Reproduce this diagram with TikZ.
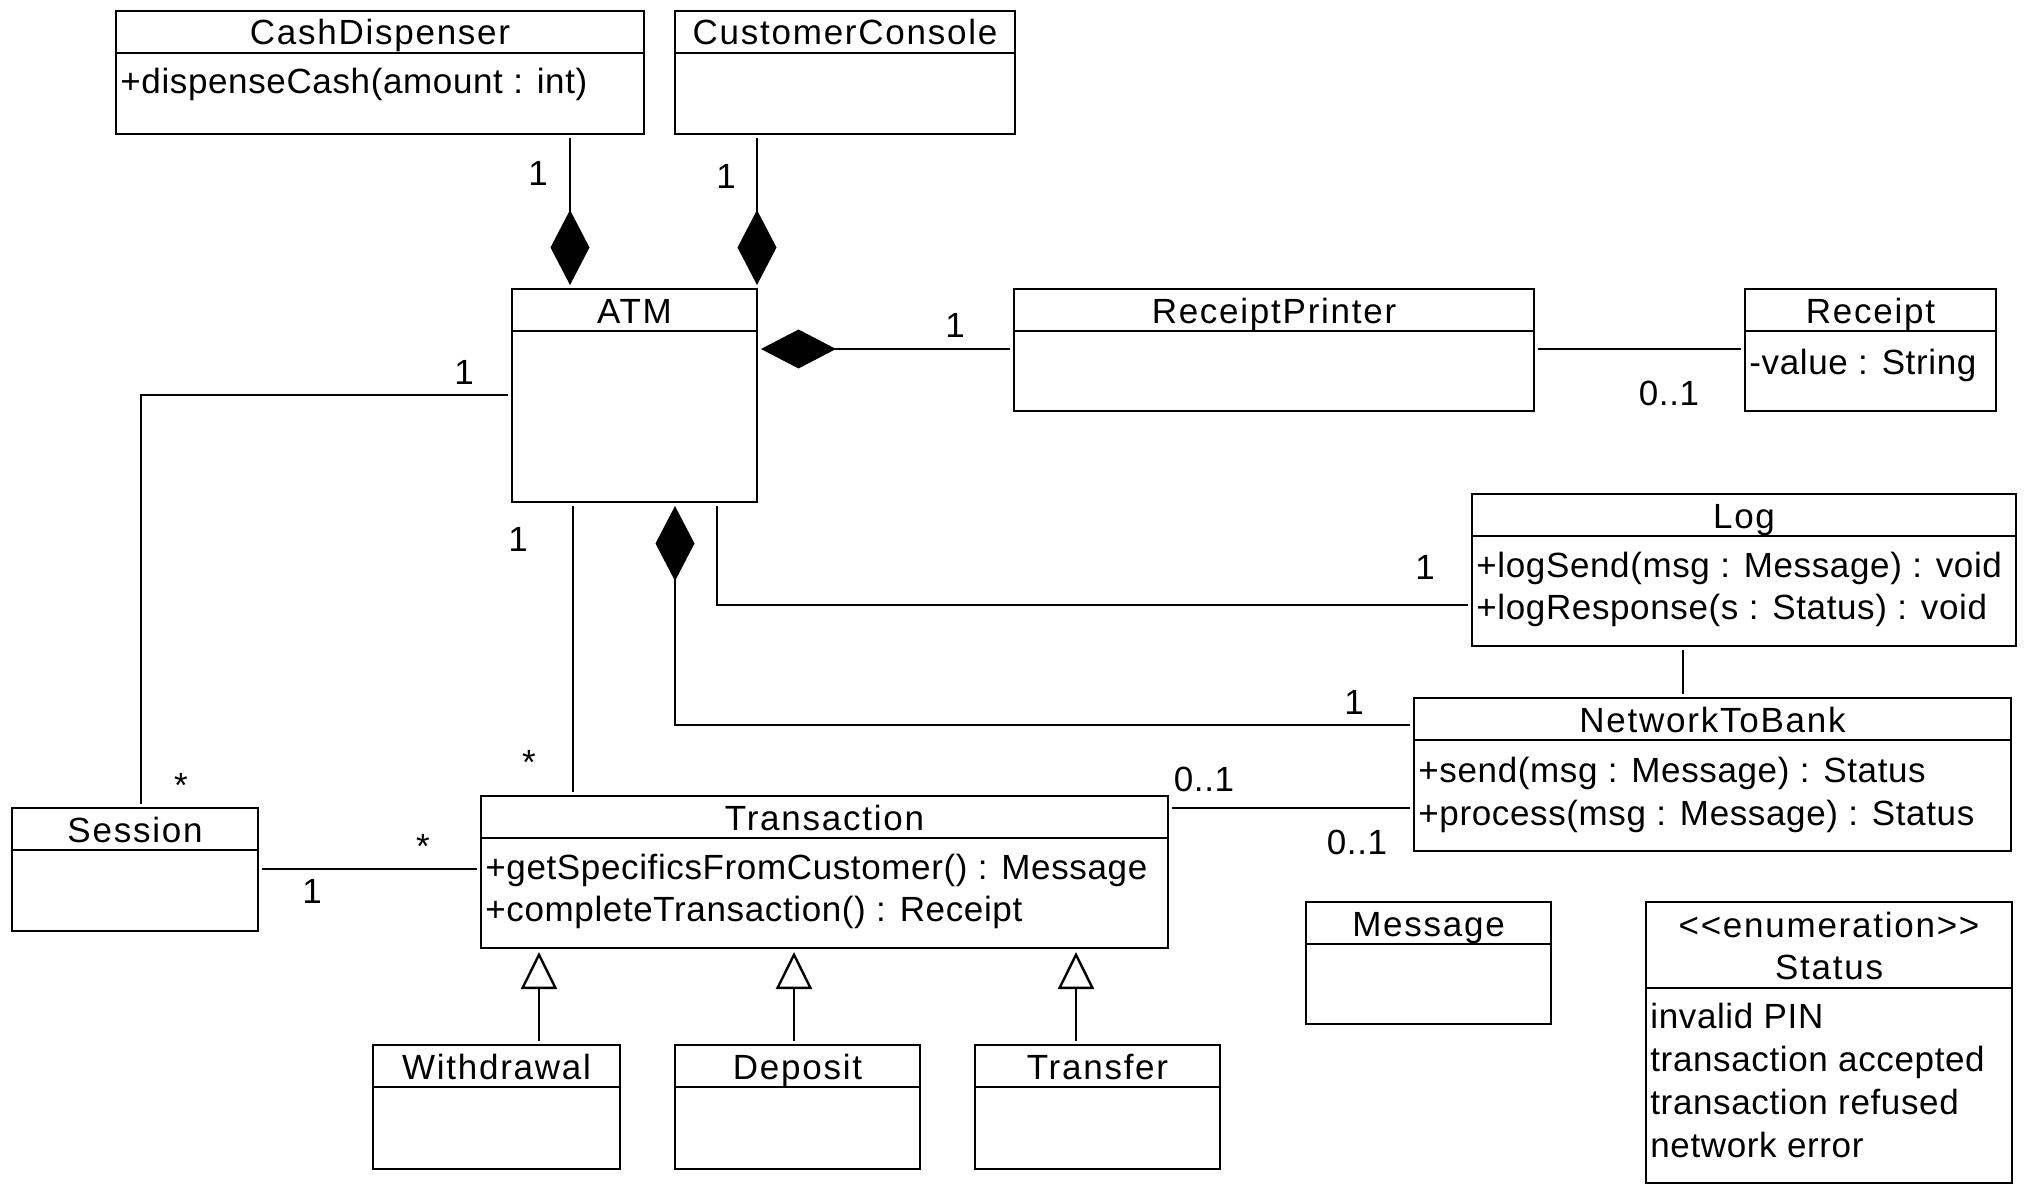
\documentclass[tikz,border=0pt]{standalone}
\usepackage{fontspec}
\setmainfont[LetterSpace=1.8]{Liberation Sans}
\newfontfamily\titlefont[LetterSpace=5]{Liberation Sans}
\usetikzlibrary{arrows.meta}

\tikzset{
  classbox/.style={draw, line width=1.2pt, anchor=center, inner sep=0pt, outer sep=2pt},
  classname/.style={anchor=base, inner sep=0pt, font=\titlefont\fontsize{17.5}{21}\selectfont},
  member/.style={anchor=base west, inner sep=0pt, font=\fontsize{17.5}{21}\selectfont},
  mult/.style={anchor=base, inner sep=0pt, font=\fontsize{17.5}{21}\selectfont},
  assoc/.style={line width=1.2pt},
  comp/.style={assoc, -{Diamond[length=37.5pt, width=19.5pt]}},
  gen/.style={assoc, -{Triangle[open, length=18.5pt, width=18pt, fill=white]}},
}

% class box: name, x, y, width, height, title
\newcommand{\umlclass}[6]{%
  \node[classbox, minimum width=#4*0.5pt, minimum height=#5*0.5pt] (#1) at (#2+#4/2,#3+#5/2) {};
  \draw[line width=1.2pt] (#2,#3+42) -- ++(#4,0); % header line
  \node[classname] (#1-name) at (#2+#4/2,#3+34) {#6};
}

\begin{document}
\begin{tikzpicture}[x=0.5pt, y=-0.5pt]
  \useasboundingbox (0,0) rectangle (2024,1198);

  % top row
  \umlclass{cashdisp}{116}{11}{528}{123}{CashDispenser}
  \node[member] (cashdisp-op) at (120,94) {+dispenseCash(amount : int)};
  \umlclass{custcon}{675}{11}{340}{123}{CustomerConsole}

  % ATM and printer
  \umlclass{atm}{512}{289}{245}{213}{ATM}
  \umlclass{printer}{1014}{289}{520}{122}{ReceiptPrinter}
  \umlclass{receipt}{1745}{289}{251}{122}{Receipt}
  \node[member] (receipt-attr) at (1749,374) {-value : String};

  % log and network
  \umlclass{log}{1472}{494}{544}{152}{Log}
  \node[member] (log-op1) at (1476,577) {+logSend(msg : Message) : void};
  \node[member] (log-op2) at (1476,619) {+logResponse(s : Status) : void};
  \umlclass{network}{1414}{698}{597}{153}{NetworkToBank}
  \node[member] (network-op1) at (1418,782) {+send(msg : Message) : Status};
  \node[member] (network-op2) at (1418,825) {+process(msg : Message) : Status};

  % session and transactions
  \umlclass{session}{12}{808}{246}{123}{Session}
  \umlclass{transaction}{481}{796}{687}{152}{Transaction}
  \node[member] (transaction-op1) at (485,879) {+getSpecificsFromCustomer() : Message};
  \node[member] (transaction-op2) at (485,921) {+completeTransaction() : Receipt};
  \umlclass{withdrawal}{373}{1045}{247}{124}{Withdrawal}
  \umlclass{deposit}{675}{1045}{245}{124}{Deposit}
  \umlclass{transfer}{975}{1045}{245}{124}{Transfer}

  % message and status
  \umlclass{message}{1306}{902}{245}{122}{Message}
  \node[classbox, minimum width=366*0.5pt, minimum height=281*0.5pt] (status) at (1829,1042.5) {};
  \draw[line width=1.2pt] (1646,988) -- ++(366,0); % header line
  \node[classname] (status-stereo) at (1829,937) {<{}<enumeration>{}>};
  \node[classname] (status-name) at (1829,979) {Status};
  \node[member] (status-v1) at (1650,1028) {invalid PIN};
  \node[member] (status-v2) at (1650,1071) {transaction accepted};
  \node[member] (status-v3) at (1650,1114) {transaction refused};
  \node[member] (status-v4) at (1650,1157) {network error};

  % compositions
  \draw[comp] (cashdisp.south -| 570,0) -- (atm.north -| 570,0);
  \draw[comp] (custcon.south -| 757,0) -- (atm.north -| 757,0);
  \draw[comp] (printer.west |- 0,349) -- (atm.east |- 0,349);
  \draw[comp] (network.west |- 0,725) -| (atm.south -| 675,0);

  % associations
  \draw[assoc] (printer.east |- 0,349) -- (receipt.west |- 0,349);
  \draw[assoc] (atm.west |- 0,395) -| (session.north -| 141,0);
  \draw[assoc] (atm.south -| 573,0) -- (transaction.north -| 573,0);
  \draw[assoc] (log.west |- 0,605) -| (atm.south -| 717,0);
  \draw[assoc] (log.south -| 1683,0) -- (network.north -| 1683,0);
  \draw[assoc] (session.east |- 0,869) -- (transaction.west |- 0,869);
  \draw[assoc] (transaction.east |- 0,808) -- (network.west |- 0,808);

  % generalizations
  \draw[gen] (withdrawal.north -| 539,0) -- (transaction.south -| 539,0);
  \draw[gen] (deposit.north -| 794,0) -- (transaction.south -| 794,0);
  \draw[gen] (transfer.north -| 1076,0) -- (transaction.south -| 1076,0);

  % multiplicities
  \node[mult] (m-cash) at (538,186) {1};
  \node[mult] (m-cust) at (726,189) {1};
  \node[mult] (m-printer) at (955,337) {1};
  \node[mult] (m-receipt) at (1669,405) {0..1};
  \node[mult] (m-atm-session) at (464,384) {1};
  \node[mult] (m-session) at (181,797) {*};
  \node[mult] (m-atm-trans) at (518,551) {1};
  \node[mult] (m-trans-atm) at (529,774) {*};
  \node[mult] (m-log) at (1425,579) {1};
  \node[mult] (m-network) at (1354,714) {1};
  \node[mult] (m-trans-net) at (1204,791) {0..1};
  \node[mult] (m-net-trans) at (1357,854) {0..1};
  \node[mult] (m-trans-sess) at (423,858) {*};
  \node[mult] (m-sess-trans) at (312,903) {1};
\end{tikzpicture}
\end{document}
